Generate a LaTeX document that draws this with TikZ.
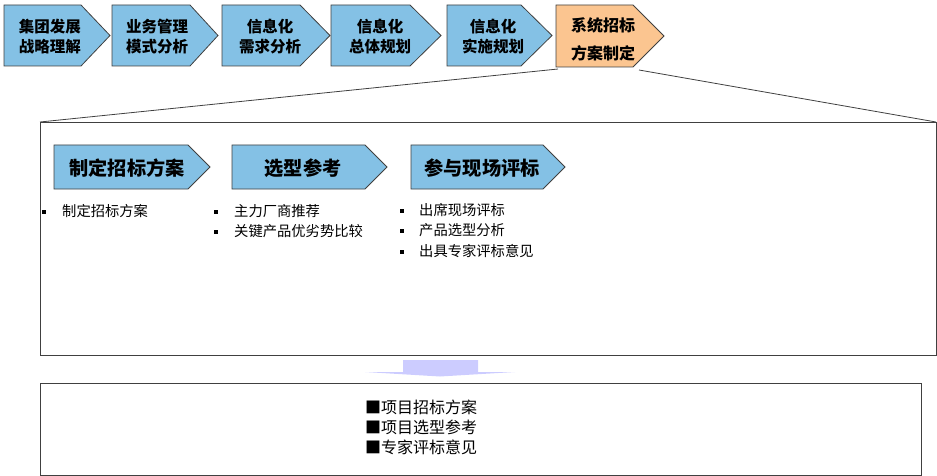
\documentclass[tikz,border=0pt]{standalone}
\usepackage{fontspec}
\setmainfont{Noto Sans CJK SC}
\definecolor{cblue}{HTML}{84C1E5}
\definecolor{corange}{HTML}{FBC590}
\definecolor{cedge}{HTML}{404040}
\definecolor{clav}{HTML}{CCCCFF}
\begin{document}
\begin{tikzpicture}[x=1pt,y=-1pt,
  chev/.style={draw=cedge,line width=0.8pt},
  toptext/.style={align=center,font=\fontsize{15.5}{20}\selectfont\bfseries,inner sep=0pt},
  orangetext/.style={align=center,font=\fontsize{16}{28}\selectfont\bfseries,inner sep=0pt},
  midtext/.style={font=\fontsize{19.2}{22}\selectfont\bfseries,inner sep=0pt},
  itemtext/.style={anchor=west,font=\fontsize{14.3}{16}\selectfont,inner sep=0pt},
  bottext/.style={anchor=west,align=left,font=\fontsize{16}{20}\selectfont,inner sep=0pt},
  frame/.style={draw=cedge,line width=0.9pt}]
\useasboundingbox (0,0) rectangle (937,476);
% top chevrons
\newcommand{\chevshape}[6]{\fill[#6] (#1,#2) -- (#3,#2) -- (#4,{(#2+#5)/2}) -- (#3,#5) -- (#1,#5) -- cycle;
  \draw[chev] (#1,#2) -- (#3,#2) -- (#4,{(#2+#5)/2}) -- (#3,#5) -- (#1,#5) -- cycle;}
\chevshape{4}{5}{81}{110}{66}{cblue}
\chevshape{112}{5}{190}{218}{66}{cblue}
\chevshape{222}{5}{300}{330}{66}{cblue}
\chevshape{331}{5}{410}{441}{66}{cblue}
\chevshape{447}{5}{521}{552}{66}{cblue}
\chevshape{556}{5}{633}{664}{67}{corange}
\node[toptext] (t1) at (50,37) {集团发展\\战略理解};
\node[toptext] (t2) at (157,37) {业务管理\\模式分析};
\node[toptext] (t3) at (270,37) {信息化\\需求分析};
\node[toptext] (t4) at (380,37) {信息化\\总体规划};
\node[toptext] (t5) at (493,37) {信息化\\实施规划};
\node[orangetext] (t6) at (603,39) {系统招标\\方案制定};
% expansion lines and main frame
\coordinate (ol) at (558,69);
\coordinate (or) at (639,70);
\draw[frame] (40,122) rectangle (936,355);
\coordinate (ml) at (40,122);
\coordinate (mr) at (936,122);
\draw[cedge,line width=0.8pt] (ol) -- (ml);
\draw[cedge,line width=0.8pt] (or) -- (mr);
% inner chevrons
\chevshape{54}{145}{188}{210}{189}{cblue}
\chevshape{232}{145}{365}{387}{189}{cblue}
\chevshape{411}{145}{543}{565}{189}{cblue}
\node[midtext] (m1) at (127,168) {制定招标方案};
\node[midtext] (m2) at (303,168) {选型参考};
\node[midtext] (m3) at (482,168) {参与现场评标};
% bullets
\newcommand{\sqb}[2]{\fill (#1-1.7,#2-1.7) rectangle (#1+1.7,#2+1.7);}
\sqb{44}{212}
\node[itemtext] (a1) at (62,211) {制定招标方案};
\sqb{216}{212}
\node[itemtext] (b1) at (234,211) {主力厂商推荐};
\sqb{216}{232}
\node[itemtext] (b2) at (234,231) {关键产品优劣势比较};
\sqb{402}{211}
\node[itemtext] (c1) at (419,210) {出席现场评标};
\sqb{402}{231}
\node[itemtext] (c2) at (419,230) {产品选型分析};
\sqb{402}{252}
\node[itemtext] (c3) at (419,251) {出具专家评标意见};
% down arrow
\fill[clav] (403,360) -- (478,360) -- (478,372) -- (515,372) -- (440,376.5) -- (365,372) -- (403,372) -- cycle;
% bottom frame
\draw[frame] (40,383) rectangle (921,475.5);
\node[bottext] (r1) at (365,407) {■项目招标方案};
\node[bottext] (r2) at (365,427) {■项目选型参考};
\node[bottext] (r3) at (365,447) {■专家评标意见};
\end{tikzpicture}
\end{document}
